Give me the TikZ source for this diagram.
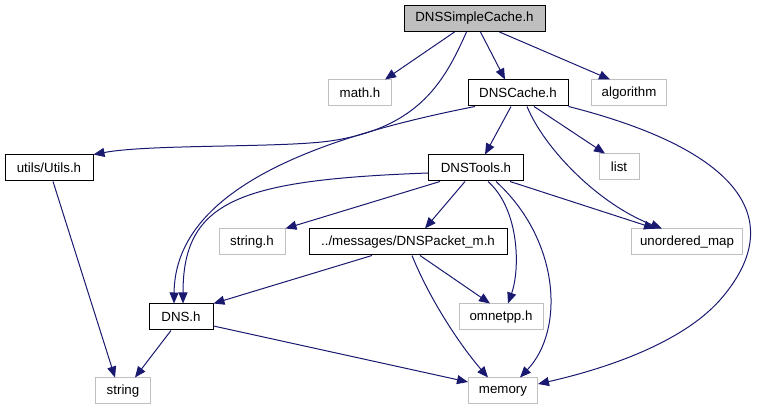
\documentclass[tikz,border=0pt]{standalone}
\usepackage{fontspec}
\setmainfont{Liberation Sans}
\usepackage{tikz}
\usepackage{xcolor}
\usetikzlibrary{arrows.meta, positioning, calc}
\definecolor{EdgeBlue}{HTML}{191970}
\definecolor{SysGray}{HTML}{BFBFBF}
\tikzset{
    % Node styles
    headerbox/.style={
        rectangle,
        draw=black,
        fill=white,
        line width=1pt,
        inner sep=0pt,
        minimum height=26pt,
        text centered,
        font=\fontsize{13.3}{15}\selectfont
    },
    rootbox/.style={
        headerbox,
        fill=SysGray
    },
    sysbox/.style={
        headerbox,
        draw=SysGray
    },
    % Arrow style
    myarrow/.style={
        -{Triangle[length=11pt,width=9pt]},
        line width=1pt,
        EdgeBlue
    }
}
\begin{document}
\begin{tikzpicture}[x=1pt, y=-1pt]
    \useasboundingbox (0,0) rectangle (771,411);
    % Header files
    \node[rootbox,minimum width=141pt] (simple) at (474.5,18.5) {DNSSimpleCache.h};
    \node[sysbox,minimum width=63pt] (math) at (360,93) {math.h};
    \node[headerbox,minimum width=100pt] (cache) at (518,93) {DNSCache.h};
    \node[sysbox,minimum width=75pt] (algo) at (629,93) {algorithm};
    \node[headerbox,minimum width=88pt] (utils) at (49,168) {utils/Utils.h};
    \node[sysbox,minimum width=40pt] (list) at (619,167) {list};
    \node[headerbox,minimum width=95pt] (tools) at (476,168) {DNSTools.h};
    \node[sysbox,minimum width=66pt] (stringh) at (252,242) {string.h};
    \node[headerbox,minimum width=198pt] (packet) at (408,242) {../messages/DNSPacket\_m.h};
    \node[sysbox,minimum width=111pt] (umap) at (687,242) {unordered\_map};
    \node[headerbox,minimum width=64pt] (dns) at (181,317) {DNS.h};
    \node[sysbox,minimum width=84pt] (omnet) at (501,317) {omnetpp.h};
    \node[sysbox,minimum width=55pt] (string) at (123,391) {string};
    \node[sysbox,minimum width=69pt] (memory) at (503,391) {memory};

    % DNSSimpleCache.h includes
    \draw[myarrow] ([xshift=-20pt]simple.south) -- ([xshift=25pt]math.north);
    \draw[myarrow] ([xshift=-8pt]simple.south) .. controls (445,80) and (420,128) .. (330,141)
        .. controls (280,148) and (150,144) .. (utils.north east);
    \draw[myarrow] ([xshift=6pt]simple.south) -- ([xshift=-13pt]cache.north);
    \draw[myarrow] ([xshift=25pt]simple.south) -- ([xshift=-19pt]algo.north);

    % DNSCache.h includes
    \draw[myarrow] ([xshift=-43pt]cache.south) .. controls (330,135) and (175,185) .. ([xshift=-7pt]dns.north);
    \draw[myarrow] ([xshift=-7pt]cache.south) -- ([xshift=9pt]tools.north);
    \draw[myarrow] ([xshift=16pt]cache.south) -- ([xshift=-14pt]list.north);
    \draw[myarrow] ([xshift=9pt]cache.south) .. controls (545,150) and (600,205) .. ([xshift=-25pt]umap.north);
    \draw[myarrow] (cache.south east) .. controls (740,150) and (790,220) .. (720,300)
        .. controls (680,345) and (600,370) .. ([yshift=7pt]memory.east);

    % DNSTools.h includes
    \draw[myarrow] ([yshift=-5pt]tools.west) .. controls (240,180) and (183,200) .. ([xshift=2pt]dns.north);
    \draw[myarrow] ([xshift=-36pt]tools.south) -- (stringh.north east);
    \draw[myarrow] ([xshift=-11pt]tools.south) -- ([xshift=17pt]packet.north);
    \draw[myarrow] ([xshift=34pt]tools.south) -- ([xshift=-32pt]umap.north);
    \draw[myarrow] ([xshift=12pt]tools.south) .. controls (520,210) and (520,270) .. ([xshift=7pt]omnet.north);
    \draw[myarrow] ([xshift=20pt]tools.south) .. controls (560,240) and (565,330) .. ([xshift=17pt]memory.north);

    % DNSPacket_m.h includes
    \draw[myarrow] ([xshift=-36pt]packet.south) -- (dns.north east);
    \draw[myarrow] ([xshift=12pt]packet.south) -- ([xshift=-11pt]omnet.north);
    \draw[myarrow] ([xshift=4pt]packet.south) .. controls (430,300) and (460,345) .. ([xshift=-15pt]memory.north);

    % Utils.h and DNS.h includes
    \draw[myarrow] ([xshift=4pt]utils.south) -- ([xshift=-8pt]string.north);
    \draw[myarrow] ([xshift=-10pt]dns.south) -- ([xshift=12pt]string.north);
    \draw[myarrow] ([yshift=-9pt]dns.east) -- ([yshift=9pt]memory.west);
\end{tikzpicture}
\end{document}
